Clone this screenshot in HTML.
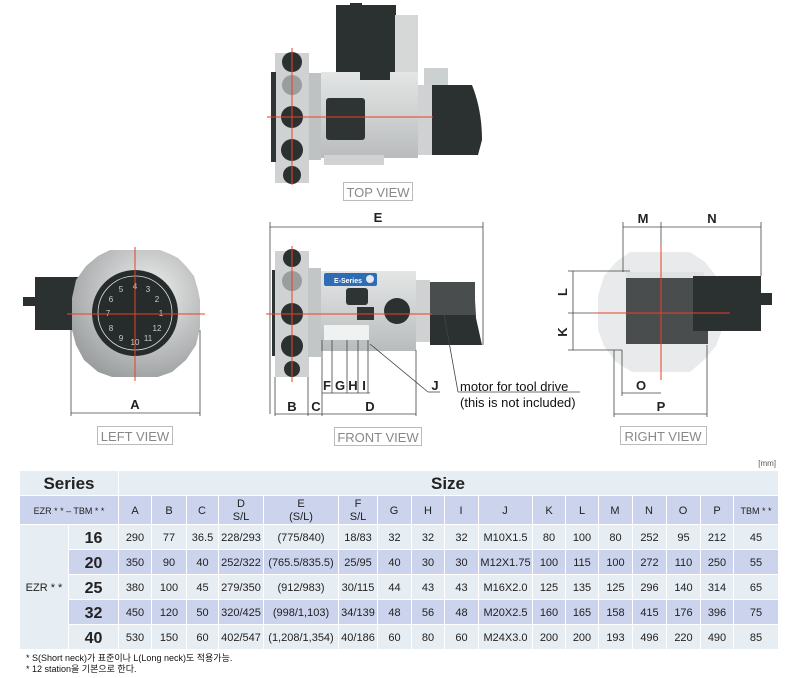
<!DOCTYPE html>
<html><head><meta charset="utf-8"><style>
html,body{margin:0;padding:0;background:#fff;width:808px;height:678px;overflow:hidden;font-family:"Liberation Sans","Noto Sans CJK KR",sans-serif}
svg{position:absolute;left:0;top:0}
</style></head><body>
<svg width="808" height="678" viewBox="0 0 808 678" xmlns="http://www.w3.org/2000/svg" font-family="Liberation Sans, Noto Sans CJK KR, sans-serif">
<defs>
<linearGradient id="mg" x1="0" y1="0" x2="0" y2="1"><stop offset="0" stop-color="#e4e6e6"/><stop offset="1" stop-color="#b9bcbd"/></linearGradient>
<radialGradient id="gd" cx="0.6" cy="0.35" r="0.7"><stop offset="0" stop-color="#f0f0f0"/><stop offset="1" stop-color="#9c9fa0"/></radialGradient>
</defs>
<!-- TOP VIEW -->
<rect x="336" y="5" width="60" height="67" fill="#2b3131"/>
<rect x="350" y="3" width="12" height="8" fill="#2b3131"/>
<rect x="395" y="15" width="23" height="57" fill="#d6d8d8"/>
<rect x="275" y="53" width="34" height="130" fill="#cfd1d2"/>
<rect x="271" y="72" width="5" height="90" fill="#2e3333"/>
<circle cx="292" cy="62" r="10" fill="#2b3131"/><circle cx="292" cy="85" r="10" fill="#9a9d9e"/>
<circle cx="292" cy="117" r="11" fill="#2b3131"/><circle cx="292" cy="150" r="11" fill="#2b3131"/><circle cx="292" cy="175" r="9" fill="#2b3131"/>
<rect x="309" y="73" width="12" height="87" fill="#bfc2c3"/>
<rect x="321" y="72" width="97" height="86" fill="url(#mg)"/>
<rect x="324" y="155" width="60" height="10" fill="#d0d2d3"/>
<rect x="326" y="98" width="39" height="42" rx="3" fill="#2e3333"/>
<rect x="360" y="72" width="30" height="8" fill="#2b3131"/>
<rect x="418" y="85" width="15" height="70" fill="#cfd1d2"/>
<rect x="424" y="68" width="24" height="17" fill="#cdd0d1"/>
<path d="M432 85 H472 Q482 110 482 140 L478 155 H432 Z" fill="#2b3131"/>
<line x1="267" y1="117" x2="433" y2="117" stroke="#e8412a" stroke-width="1"/>
<line x1="292" y1="48" x2="292" y2="185" stroke="#e8412a" stroke-width="1"/>
<rect x="343.5" y="182.5" width="69" height="18" fill="#fff" stroke="#bbb"/>
<text x="378" y="197" font-size="13" fill="#888" text-anchor="middle">TOP VIEW</text>

<!-- FRONT VIEW -->
<line x1="270" y1="227" x2="483" y2="227" stroke="#444" stroke-width="0.8"/>
<line x1="270" y1="222" x2="270" y2="414" stroke="#444" stroke-width="0.8"/>
<line x1="483" y1="222" x2="483" y2="345" stroke="#444" stroke-width="0.8"/>
<text x="378" y="222" font-size="13" font-weight="bold" fill="#222" text-anchor="middle">E</text>
<rect x="272" y="270" width="5" height="86" fill="#2e3333"/>
<rect x="275" y="251" width="34" height="126" fill="#cfd1d2"/>
<circle cx="292" cy="258" r="9" fill="#2b3131"/><circle cx="292" cy="281" r="10" fill="#9a9d9e"/>
<circle cx="292" cy="314" r="11" fill="#2b3131"/><circle cx="292" cy="346" r="11" fill="#2b3131"/><circle cx="292" cy="369" r="8" fill="#2b3131"/>
<rect x="308" y="268" width="13" height="89" fill="#c3c6c7"/>
<rect x="321" y="271" width="95" height="80" fill="url(#mg)"/>
<rect x="324" y="273" width="53" height="13" rx="2" fill="#2f6cb6"/>
<text x="348" y="283" font-size="7" font-weight="bold" fill="#fff" text-anchor="middle">E-Series</text>
<circle cx="370" cy="279" r="4" fill="#e0e6f2"/>
<rect x="346" y="288" width="22" height="17" rx="3" fill="#2e3333"/>
<rect x="357" y="307" width="17" height="13" fill="#333"/>
<circle cx="397" cy="311" r="13" fill="#2b3131"/>
<rect x="324" y="325" width="45" height="15" fill="#f0f1f1"/>
<rect x="416" y="280" width="14" height="62" fill="#cfd1d2"/>
<path d="M430 282 H474 L476 318 L482 345 H430 Z" fill="#2b3131"/>
<rect x="430" y="282" width="45" height="33" fill="#4a4d4d"/>
<line x1="266" y1="314" x2="432" y2="314" stroke="#e8412a"/>
<line x1="292" y1="246" x2="292" y2="382" stroke="#e8412a"/>
<g stroke="#444" stroke-width="0.8">
<line x1="275" y1="377" x2="275" y2="416"/><line x1="308" y1="377" x2="308" y2="416"/>
<line x1="322" y1="340" x2="322" y2="416"/><line x1="416" y1="350" x2="416" y2="416"/>
<line x1="332" y1="340" x2="332" y2="393"/><line x1="347" y1="340" x2="347" y2="393"/><line x1="358" y1="340" x2="358" y2="393"/><line x1="368" y1="340" x2="368" y2="393"/>
<line x1="322" y1="393" x2="370" y2="393"/>
<line x1="275" y1="414" x2="416" y2="414"/>
<line x1="370" y1="344" x2="428" y2="392"/><line x1="428" y1="392" x2="440" y2="392"/>
<line x1="444" y1="314" x2="458" y2="392"/><line x1="458" y1="392" x2="580" y2="392"/>
</g>
<g font-size="13" font-weight="bold" fill="#222" text-anchor="middle">
<text x="292" y="411">B</text><text x="316" y="411">C</text><text x="370" y="411">D</text>
<text x="327" y="390">F</text><text x="340" y="390">G</text><text x="353" y="390">H</text><text x="364" y="390">I</text>
<text x="435" y="390">J</text>
</g>
<text x="460" y="391" font-size="13" fill="#111">motor for tool drive</text>
<text x="460" y="407" font-size="13" fill="#111">(this is not included)</text>
<rect x="334.5" y="427.5" width="87" height="18" fill="#fff" stroke="#bbb"/>
<text x="378" y="442" font-size="13" fill="#888" text-anchor="middle">FRONT VIEW</text>

<!-- LEFT VIEW -->
<rect x="35" y="277" width="48" height="53" fill="#2b3131"/>
<rect x="23" y="297" width="13" height="9" fill="#2b3131"/>
<path d="M110 250 H160 L170 254 L178 258 L186 266 L194 276 L198 290 L200 300 V328 L196 345 L186 360 L172 372 L158 377 H112 L98 372 L84 360 L76 345 L72 330 V298 L76 280 L86 266 L98 256 Z" fill="url(#gd)"/>
<circle cx="135" cy="313" r="43" fill="#262b2b"/>
<circle cx="135" cy="313" r="37" fill="none" stroke="#ddd" stroke-width="0.8"/>
<g font-size="8" fill="#ccc" text-anchor="middle">
<text x="135" y="289">4</text><text x="148" y="292">3</text><text x="157" y="302">2</text><text x="161" y="316">1</text>
<text x="157" y="331">12</text><text x="148" y="341">11</text><text x="135" y="345">10</text><text x="121" y="341">9</text>
<text x="111" y="331">8</text><text x="108" y="316">7</text><text x="111" y="302">6</text><text x="121" y="292">5</text>
</g>
<line x1="67" y1="314" x2="205" y2="314" stroke="#e8412a"/>
<line x1="135" y1="247" x2="135" y2="381" stroke="#e8412a"/>
<g stroke="#444" stroke-width="0.8"><line x1="71" y1="330" x2="71" y2="416"/><line x1="200" y1="330" x2="200" y2="416"/><line x1="71" y1="413" x2="200" y2="413"/></g>
<text x="135" y="409" font-size="13" font-weight="bold" fill="#222" text-anchor="middle">A</text>
<rect x="97.5" y="426.5" width="75" height="18" fill="#fff" stroke="#bbb"/>
<text x="135" y="441" font-size="13" fill="#888" text-anchor="middle">LEFT VIEW</text>

<!-- RIGHT VIEW -->
<path d="M630 252 H690 L705 262 L716 276 L722 296 V330 L716 346 L704 360 L690 372 H632 L616 362 L604 346 L598 330 V296 L604 276 L616 262 Z" fill="#e8eaeb"/>
<rect x="626" y="276" width="82" height="68" fill="#4a4d4d"/>
<rect x="626" y="272" width="78" height="6" fill="#e0e2e2"/>
<rect x="693" y="276" width="68" height="55" fill="#2b3030"/>
<rect x="761" y="293" width="11" height="12" fill="#2b3030"/>
<line x1="595" y1="313" x2="730" y2="313" stroke="#e8412a"/>
<line x1="661" y1="245" x2="661" y2="380" stroke="#e8412a"/>
<g stroke="#444" stroke-width="0.8">
<line x1="623" y1="222" x2="623" y2="272"/><line x1="661" y1="222" x2="661" y2="245"/><line x1="761" y1="222" x2="761" y2="276"/>
<line x1="623" y1="227" x2="761" y2="227"/>
<line x1="568" y1="271" x2="630" y2="271"/><line x1="568" y1="313" x2="595" y2="313"/><line x1="568" y1="350" x2="622" y2="350"/>
<line x1="573" y1="271" x2="573" y2="350"/>
<line x1="622" y1="350" x2="622" y2="396"/><line x1="614" y1="350" x2="614" y2="417"/><line x1="707" y1="345" x2="707" y2="417"/>
<line x1="622" y1="393" x2="661" y2="393"/><line x1="614" y1="414" x2="707" y2="414"/>
</g>
<g font-size="13" font-weight="bold" fill="#222" text-anchor="middle">
<text x="643" y="223">M</text><text x="712" y="223">N</text>
<text x="641" y="390">O</text><text x="661" y="411">P</text>
<text x="0" y="0" transform="translate(567,292) rotate(-90)">L</text>
<text x="0" y="0" transform="translate(567,332) rotate(-90)">K</text>
</g>
<rect x="620.5" y="426.5" width="86" height="18" fill="#fff" stroke="#bbb"/>
<text x="663" y="441" font-size="13" fill="#888" text-anchor="middle">RIGHT VIEW</text>

<!-- TABLE -->
<text x="776" y="466" font-size="8" fill="#555" text-anchor="end">[mm]</text>
<g fill="#e6edf3">
<rect x="20" y="471" width="98" height="24"/><rect x="119" y="471" width="659" height="24"/>
</g>
<g fill="#ccd3ec">
<rect x="20" y="496" width="98" height="28"/>
<rect x="119" y="496" width="32" height="28"/><rect x="152" y="496" width="34" height="28"/><rect x="187" y="496" width="31" height="28"/><rect x="219" y="496" width="44" height="28"/><rect x="264" y="496" width="74" height="28"/><rect x="339" y="496" width="38" height="28"/><rect x="378" y="496" width="33" height="28"/><rect x="412" y="496" width="32" height="28"/><rect x="445" y="496" width="33" height="28"/><rect x="479" y="496" width="53" height="28"/><rect x="533" y="496" width="32" height="28"/><rect x="566" y="496" width="32" height="28"/><rect x="599" y="496" width="33" height="28"/><rect x="633" y="496" width="33" height="28"/><rect x="667" y="496" width="33" height="28"/><rect x="701" y="496" width="32" height="28"/><rect x="734" y="496" width="44" height="28"/>
</g>
<rect x="20" y="525" width="48" height="124" fill="#e6edf3"/>
<g id="rows"></g>
<g font-size="17" font-weight="bold" fill="#222" text-anchor="middle">
<text x="69" y="489">Series</text><text x="448" y="489">Size</text>
</g>
<g font-size="11" fill="#222" text-anchor="middle">
<text x="69" y="514" font-size="9">EZR * * – TBM * *</text>
<text x="135" y="514">A</text><text x="169" y="514">B</text><text x="202" y="514">C</text>
<text x="241" y="507">D</text><text x="241" y="520">S/L</text>
<text x="301" y="507">E</text><text x="301" y="520">(S/L)</text>
<text x="358" y="507">F</text><text x="358" y="520">S/L</text>
<text x="394" y="514">G</text><text x="428" y="514">H</text><text x="461" y="514">I</text><text x="505" y="514">J</text><text x="549" y="514">K</text><text x="582" y="514">L</text><text x="615" y="514">M</text><text x="649" y="514">N</text><text x="683" y="514">O</text><text x="717" y="514">P</text><text x="756" y="514" font-size="9">TBM * *</text>
<text x="44" y="591">EZR * *</text>
</g>
<g font-size="10" fill="#111" text-anchor="end">
<text x="26" y="661" text-anchor="start" font-size="9">* S(Short neck)가 표준이나 L(Long neck)도 적용가능.</text>
<text x="26" y="672" text-anchor="start" font-size="9">* 12 station을 기본으로 한다.</text>
</g>
</svg>
<script>
var rows=[["16","290","77","36.5","228/293","(775/840)","18/83","32","32","32","M10X1.5","80","100","80","252","95","212","45"],
["20","350","90","40","252/322","(765.5/835.5)","25/95","40","30","30","M12X1.75","100","115","100","272","110","250","55"],
["25","380","100","45","279/350","(912/983)","30/115","44","43","43","M16X2.0","125","135","125","296","140","314","65"],
["32","450","120","50","320/425","(998/1,103)","34/139","48","56","48","M20X2.5","160","165","158","415","176","396","75"],
["40","530","150","60","402/547","(1,208/1,354)","40/186","60","80","60","M24X3.0","200","200","193","496","220","490","85"]];
var cols=[[69,49],[119,32],[152,34],[187,31],[219,44],[264,74],[339,38],[378,33],[412,32],[445,33],[479,53],[533,32],[566,32],[599,33],[633,33],[667,33],[701,32],[734,44]];
var g=document.getElementById('rows'),ns="http://www.w3.org/2000/svg",s="";
rows.forEach(function(r,i){var y=525+i*25,f=i%2?"#ccd3ec":"#e6edf3";
cols.forEach(function(c,j){s+='<rect x="'+c[0]+'" y="'+y+'" width="'+c[1]+'" height="24" fill="'+f+'"/>';
s+='<text x="'+(c[0]+c[1]/2)+'" y="'+(y+(j?16:18))+'" text-anchor="middle" fill="#222" font-size="'+(j?11:16)+'"'+(j?'':' font-weight="bold"')+'>'+r[j]+'</text>';});});
g.innerHTML=s;
</script>
</body></html>
